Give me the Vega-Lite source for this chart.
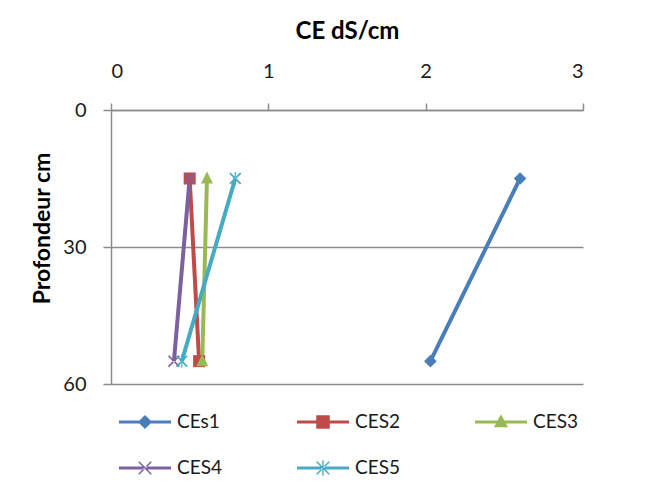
{
  "$schema": "https://vega.github.io/schema/vega-lite/v6.json",
  "width": 472,
  "height": 274,
  "autosize": "none",
  "padding": {"left": 111, "top": 110, "right": 62, "bottom": 100},
  "background": "white",
  "config": {"view": {"stroke": null}},
  "data": {
    "values": [
      {"series": "CEs1", "ce": 2.6, "depth": 15},
      {"series": "CEs1", "ce": 2.03, "depth": 55},
      {"series": "CES2", "ce": 0.5, "depth": 15},
      {"series": "CES2", "ce": 0.56, "depth": 55},
      {"series": "CES3", "ce": 0.61, "depth": 15},
      {"series": "CES3", "ce": 0.58, "depth": 55},
      {"series": "CES4", "ce": 0.5, "depth": 15},
      {"series": "CES4", "ce": 0.4, "depth": 55},
      {"series": "CES5", "ce": 0.79, "depth": 15},
      {"series": "CES5", "ce": 0.45, "depth": 55}
    ]
  },
  "encoding": {
    "x": {
      "field": "ce",
      "type": "quantitative",
      "scale": {"domain": [0, 3], "nice": false, "zero": false},
      "axis": {
        "orient": "top",
        "values": [0, 1, 2, 3],
        "grid": false,
        "domainColor": "#8c8c8c",
        "domainWidth": 1.5,
        "tickColor": "#8c8c8c",
        "tickWidth": 1.5,
        "tickSize": 7,
        "labelFont": "Lato",
        "labelFontSize": 20,
        "labelColor": "#1a1a1a",
        "labelPadding": 22,
        "title": "CE dS/cm",
        "titleFont": "Lato",
        "titleFontSize": 24,
        "titleFontWeight": "bold",
        "titleColor": "#000000",
        "titlePadding": 18
      }
    },
    "y": {
      "field": "depth",
      "type": "quantitative",
      "scale": {"domain": [0, 60], "reverse": true, "nice": false},
      "axis": {
        "orient": "left",
        "values": [0, 30, 60],
        "grid": true,
        "gridColor": "#8c8c8c",
        "gridWidth": 1.5,
        "domainColor": "#8c8c8c",
        "domainWidth": 1.5,
        "tickColor": "#8c8c8c",
        "tickWidth": 1.5,
        "tickSize": 8,
        "labelFont": "Lato",
        "labelFontSize": 20,
        "labelColor": "#1a1a1a",
        "labelPadding": 17,
        "title": "Profondeur cm",
        "titleFont": "Lato",
        "titleFontSize": 23,
        "titleFontWeight": "bold",
        "titleColor": "#000000",
        "titlePadding": 8,
        "titleY": 118
      }
    }
  },
  "layer": [
    {
      "mark": {"type": "line", "strokeWidth": 4},
      "encoding": {
        "color": {
          "field": "series",
          "type": "nominal",
          "scale": {"domain": ["CEs1", "CES2", "CES3", "CES4", "CES5"], "range": ["#4a7ebb", "#be4b48", "#98b954", "#7d60a0", "#46aac5"]},
          "legend": null
        },
        "order": {"field": "depth", "type": "quantitative"}
      }
    },
    {
      "mark": {"type": "point", "filled": true, "size": 144, "opacity": 1},
      "encoding": {
        "color": {
          "field": "series",
          "type": "nominal",
          "scale": {"domain": ["CEs1", "CES2", "CES3", "CES4", "CES5"], "range": ["#4a7ebb", "#be4b48", "#98b954", "#7d60a0", "#46aac5"]},
          "legend": null
        },
        "shape": {
          "field": "series",
          "type": "nominal",
          "scale": {
            "domain": ["CEs1", "CES2", "CES3", "CES4", "CES5"],
            "range": [
              "M0,-1.05L1.05,0L0,1.05L-1.05,0Z",
              "M-1,-1H1V1H-1Z",
              "M0,-1.15L1,0.85H-1Z",
              "M-1,-0.8L-0.8,-1L1,0.8L0.8,1ZM1,-0.8L0.8,-1L-1,0.8L-0.8,1Z",
              "M-1,-0.8L-0.8,-1L1,0.8L0.8,1ZM1,-0.8L0.8,-1L-1,0.8L-0.8,1ZM-0.1,-1.1H0.1V1.1H-0.1Z"
            ]
          },
          "legend": null
        }
      }
    },
    {
      "transform": [{"filter": "datum.depth < 0"}],
      "mark": {"type": "point", "filled": true, "size": 2704, "opacity": 1},
      "encoding": {
        "color": {
          "field": "series",
          "type": "nominal",
          "scale": {"domain": ["CEs1", "CES2", "CES3", "CES4", "CES5"], "range": ["#4a7ebb", "#be4b48", "#98b954", "#7d60a0", "#46aac5"]},
          "legend": {
            "title": null,
            "orient": "none",
            "legendX": 8,
            "legendY": 286,
            "direction": "horizontal",
            "columns": 3,
            "gridAlign": "all",
            "symbolSize": 2704,
            "symbolOpacity": 1,
            "symbolStrokeWidth": 0,
            "labelFont": "Lato",
            "labelFontSize": 19,
            "labelColor": "#1a1a1a",
            "labelOffset": 6,
            "columnPadding": 75,
            "rowPadding": 10,
            "padding": 0
          }
        },
        "shape": {
          "field": "series",
          "type": "nominal",
          "scale": {
            "domain": ["CEs1", "CES2", "CES3", "CES4", "CES5"],
            "range": [
              "M-1,-0.06H1V0.06H-1ZM0,-0.27L0.27,0L0,0.27L-0.27,0Z",
              "M-1,-0.06H1V0.06H-1ZM-0.26,-0.26H0.26V0.26H-0.26Z",
              "M-1,-0.06H1V0.06H-1ZM0,-0.3L0.27,0.2H-0.27Z",
              "M-1,-0.06H1V0.06H-1ZM-0.26,-0.22L-0.22,-0.26L0.26,0.22L0.22,0.26ZM0.26,-0.22L0.22,-0.26L-0.26,0.22L-0.22,0.26Z",
              "M-1,-0.06H1V0.06H-1ZM-0.26,-0.22L-0.22,-0.26L0.26,0.22L0.22,0.26ZM0.26,-0.22L0.22,-0.26L-0.26,0.22L-0.22,0.26ZM-0.025,-0.3H0.025V0.3H-0.025Z"
            ]
          }
        }
      }
    }
  ],
  "resolve": {"scale": {"color": "independent", "shape": "independent"}}
}
